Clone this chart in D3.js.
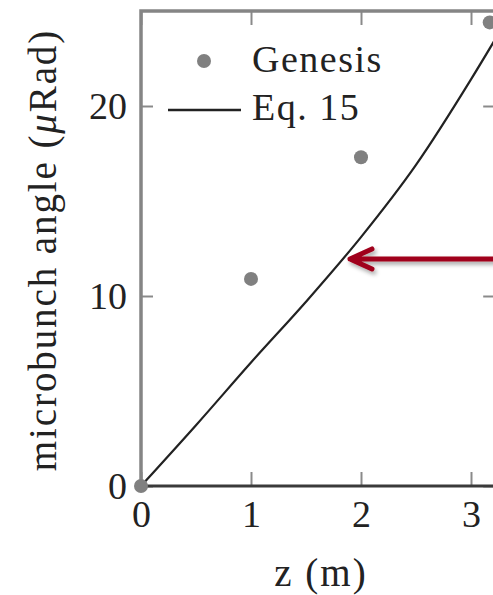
<!DOCTYPE html>
<html>
<head>
<meta charset="utf-8">
<script src="https://cdn.jsdelivr.net/npm/d3@7"></script>
<style>
  body { margin: 0; background: #fff; }
  svg { display: block; }
  text { font-family: "Liberation Serif", serif; fill: #222; }
</style>
</head>
<body>
<svg width="493" height="595"></svg>
<script>
// values
const genesisZ = [0, 1, 2, 3.17];
const genesisAngle = [0, 10.9, 17.3, 24.4];
const eqZ = [0, 0.5, 1, 1.5, 2, 2.5, 3, 3.25];
const eqAngle = [0, 3.2, 6.5, 9.7, 13.1, 16.9, 21.4, 23.8];
const xTicks = [0, 1, 2, 3];
const yTicks = [0, 10, 20];
const legendLabels = ["Genesis", "Eq. 15"];
const arrowTip = [1.9, 11.95];

const svg = d3.select("svg");
const fontSize = 38;
const plotLeft = 141, plotTop = 11, plotBottom = 486;

const x = d3.scaleLinear().domain([0, 3.22]).range([plotLeft, plotLeft + 3.22 * 110]);
const y = d3.scaleLinear().domain([0, 25]).range([plotBottom, plotTop]);
const plotRight = x.range()[1];

const styleAxis = g => {
  g.select(".domain").remove();
  g.selectAll(".tick line").attr("stroke", "#8a8a8a").attr("stroke-width", 2);
  g.selectAll(".tick text").attr("font-size", fontSize).attr("fill", "#222")
    .attr("font-family", "Liberation Serif");
};

svg.append("g")
  .attr("transform", `translate(${plotLeft},0)`)
  .call(d3.axisLeft(y).tickValues(yTicks).tickFormat(d3.format("d")).tickSize(-12).tickPadding(14))
  .call(styleAxis);
svg.append("g")
  .attr("transform", `translate(${plotRight},0)`)
  .call(d3.axisRight(y).tickValues(yTicks).tickSize(-12).tickFormat(""))
  .call(styleAxis);
svg.append("g")
  .attr("transform", `translate(0,${plotBottom})`)
  .call(d3.axisBottom(x).tickValues(xTicks).tickFormat(d3.format("d")).tickSize(-14).tickPadding(14))
  .call(styleAxis);
svg.append("g")
  .attr("transform", `translate(0,${plotTop})`)
  .call(d3.axisTop(x).tickValues(xTicks).tickSize(-14).tickFormat(""))
  .call(styleAxis);

// frame
svg.append("path")
  .attr("d", `M${plotLeft},${plotBottom}V${plotTop}H${plotRight}V${plotBottom}`)
  .attr("fill", "none").attr("stroke", "#858585").attr("stroke-width", 3.5);
svg.append("line")
  .attr("x1", plotLeft).attr("x2", plotRight).attr("y1", plotBottom).attr("y2", plotBottom)
  .attr("stroke", "#3a3a3a").attr("stroke-width", 3);

svg.append("clipPath").attr("id", "plot")
  .append("rect").attr("x", plotLeft).attr("y", plotTop)
  .attr("width", plotRight - plotLeft).attr("height", plotBottom - plotTop);

const eqData = eqZ.map((z, i) => [z, eqAngle[i]]);
svg.append("path")
  .datum(eqData)
  .attr("clip-path", "url(#plot)")
  .attr("fill", "none")
  .attr("stroke", "#222")
  .attr("stroke-width", 2.2)
  .attr("d", d3.line().x(d => x(d[0])).y(d => y(d[1])).curve(d3.curveMonotoneX));

svg.selectAll("circle.genesis")
  .data(genesisZ.map((z, i) => [z, genesisAngle[i]]))
  .enter()
  .append("circle")
  .attr("class", "genesis")
  .attr("cx", d => x(d[0]))
  .attr("cy", d => y(d[1]))
  .attr("r", 7)
  .attr("fill", "#808080");

// legend
svg.append("circle").attr("cx", 204).attr("cy", 61).attr("r", 7).attr("fill", "#808080");
svg.append("line").attr("x1", 168).attr("x2", 241).attr("y1", 110).attr("y2", 110)
  .attr("stroke", "#222").attr("stroke-width", 2.4);
svg.selectAll("text.legend")
  .data(legendLabels)
  .enter()
  .append("text")
  .attr("class", "legend")
  .attr("x", 252)
  .attr("y", (d, i) => 72 + i * 48)
  .attr("font-size", fontSize)
  .attr("letter-spacing", 1.5)
  .text(d => d);

// axis titles
svg.append("text")
  .attr("x", 321).attr("y", 586)
  .attr("text-anchor", "middle")
  .attr("font-size", fontSize + 1)
  .attr("letter-spacing", 2)
  .text("z (m)");
const yTitle = svg.append("text")
  .attr("transform", "translate(56,250) rotate(-90)")
  .attr("text-anchor", "middle")
  .attr("font-size", fontSize + 1)
  .attr("letter-spacing", 1.9);
yTitle.append("tspan").text("microbunch angle (");
yTitle.append("tspan").attr("font-style", "italic").text("\u03BC");
yTitle.append("tspan").text("Rad)");

// red arrow annotation
const defs = svg.append("defs");
defs.append("filter").attr("id", "shadow")
  .attr("x", "-20%").attr("y", "-50%").attr("width", "140%").attr("height", "200%")
  .append("feDropShadow")
  .attr("dx", 2).attr("dy", 3).attr("stdDeviation", 2)
  .attr("flood-color", "#000").attr("flood-opacity", 0.35);
const tx = x(arrowTip[0]), ty = y(arrowTip[1]);
svg.append("path")
  .attr("d", `M${tx},${ty}H${x(3.4)}M${tx + 22},${ty - 10}L${tx},${ty}L${tx + 22},${ty + 10}`)
  .attr("fill", "none")
  .attr("stroke", "#a0001c")
  .attr("stroke-width", 5)
  .attr("stroke-linecap", "round")
  .attr("stroke-linejoin", "round")
  .attr("filter", "url(#shadow)");
</script>
</body>
</html>
